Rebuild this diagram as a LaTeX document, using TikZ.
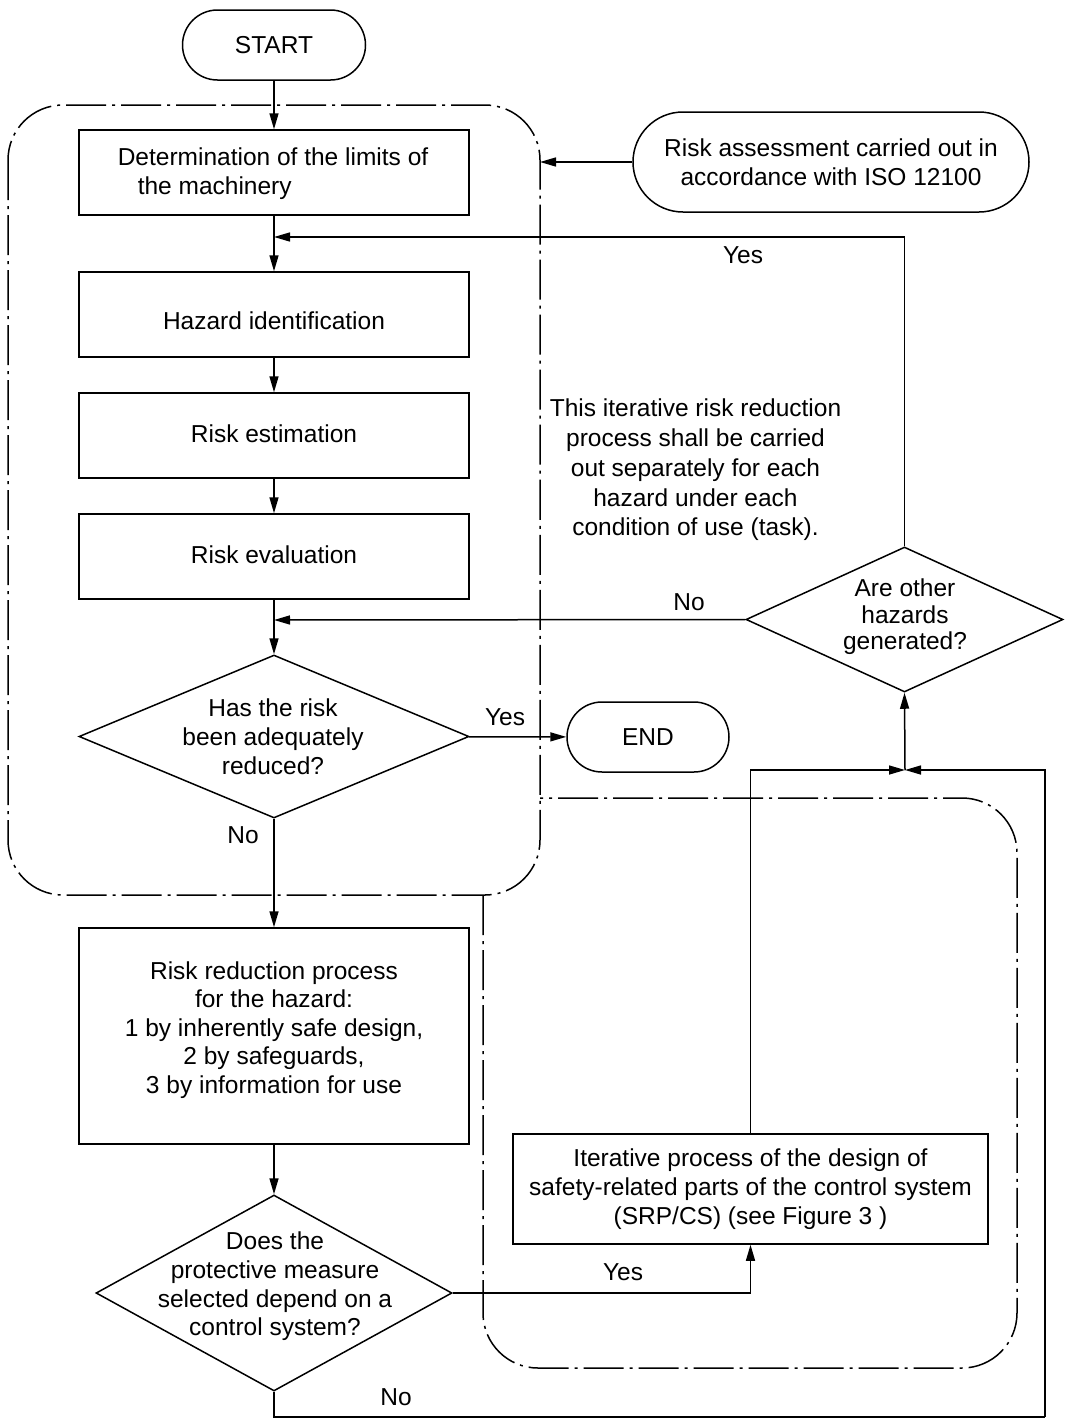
\documentclass[tikz,border=0pt]{standalone}
\usepackage{fontspec}
\setmainfont{Liberation Sans}
\usetikzlibrary{arrows.meta,shapes.geometric}
\newcommand\myfs{\fontsize{24.5}{29}\selectfont}
\tikzset{
  box/.style={draw, line width=1.5pt, rectangle, minimum width=390pt, inner sep=0pt, align=center, font=\myfs},
  pill/.style={draw, line width=1.5pt, rectangle, inner sep=0pt, align=center, font=\myfs},
  dia/.style={draw, line width=1.5pt, diamond, inner sep=0pt},
  txt/.style={inner sep=0pt, align=center, font=\myfs},
  arr/.style={line width=1.5pt, -{Triangle[length=16pt,width=9pt]}},
  ln/.style={line width=1.5pt},
  region/.style={line width=1.5pt, dash pattern=on 40pt off 6pt on 3pt off 6pt, rounded corners=55pt},
}
\begin{document}
\begin{tikzpicture}[x=1pt,y=-1pt]
\useasboundingbox (0,0) rectangle (1075,1427);
% regions
\draw[region] (8,105) rectangle (540,895);
\draw[region] (483,895) -- (483,1368) -- (1017,1368) -- (1017,798) -- (540,798);
% nodes
\node[pill, minimum width=183pt, minimum height=70pt, rounded corners=35pt] (start) at (274,45) {START};
\node[pill, minimum width=396pt, minimum height=100pt, rounded corners=50pt] (ra) at (831,162) {Risk assessment carried out in\\accordance with ISO 12100};
\node[box, minimum height=85pt] (b1) at (274,172.5) {};
\node[txt, align=left] (b1t) at (273,174) {Determination of the limits of\\\hspace*{20pt}the machinery};
\node[box, minimum height=85pt] (b2) at (274,314.5) {};
\node[txt] (b2t) at (274,321) {Hazard identification};
\node[box, minimum height=85pt] (b3) at (274,435.5) {};
\node[txt] (b3t) at (274,433.5) {Risk estimation};
\node[box, minimum height=85pt] (b4) at (274,556.5) {};
\node[txt] (b4t) at (274,555) {Risk evaluation};
\node[dia, minimum width=390pt, minimum height=163pt] (d1) at (274,736.5) {};
\node[txt] (d1t) at (273,737) {Has the risk\\been adequately\\reduced?};
\node[pill, minimum width=162pt, minimum height=70pt, rounded corners=35pt] (end) at (648,737) {END};
\node[box, minimum height=216pt] (b5) at (274,1036) {};
\node[txt, font=\fontsize{24.5}{28.5}\selectfont] (b5t) at (274,1030) {Risk reduction process\\for the hazard:\\1 by inherently safe design,\\2 by safeguards,\\3 by information for use};
\node[dia, minimum width=356pt, minimum height=196pt] (d2) at (274,1293) {};
\node[txt, font=\fontsize{24.5}{28.7}\selectfont] (d2t) at (275,1286.5) {Does the\\protective measure\\selected depend on a\\control system?};
\node[box, minimum width=475pt, minimum height=110pt] (b6) at (750.5,1189) {Iterative process of the design of\\safety-related parts of the control system\\(SRP/CS) (see Figure 3 )};
\node[dia, minimum width=317pt, minimum height=145pt] (d3) at (904.5,619.5) {};
\node[txt, font=\fontsize{24.5}{26.5}\selectfont] (d3t) at (905,617) {Are other\\hazards\\generated?};
\node[txt, font=\fontsize{24.5}{29.7}\selectfont] (note) at (695.5,470) {This iterative risk reduction\\process shall be carried\\out separately for each\\hazard under each\\condition of use (task).};
% labels
\node[txt] (l1) at (505,717) {Yes};
\node[txt] (l2) at (243,835) {No};
\node[txt] (l3) at (623,1272) {Yes};
\node[txt] (l4) at (396,1397) {No};
\node[txt] (l5) at (689,602) {No};
\node[txt] (l6) at (743,255) {Yes};
% junction coordinates
\coordinate (rb) at (540,162);
\coordinate (j1) at (274,237);
\coordinate (j2) at (274,620);
\coordinate (j3) at (905,770);
\coordinate (c1) at (1045,1417);
% connectors
\draw[arr] (start) -- (b1);
\draw[arr] (ra) -- (rb);
\draw[arr] (b1) -- (b2);
\draw[arr] (b2) -- (b3);
\draw[arr] (b3) -- (b4);
\draw[arr] (b4) -- (d1);
\draw[arr] (d1) -- (end);
\draw[arr] (d1) -- (b5);
\draw[arr] (b5) -- (d2);
\draw[arr] (d2.east) -| (b6.south);
\draw[arr] (b6.north) |- (j3);
\draw[ln] (d2.south) |- (c1);
\draw[arr] (c1) |- (j3);
\draw[arr] (j3) -- (d3.south);
\draw[arr] (d3.west) -- (j2);
\draw[arr] (d3.north) |- (j1);
\end{tikzpicture}
\end{document}
